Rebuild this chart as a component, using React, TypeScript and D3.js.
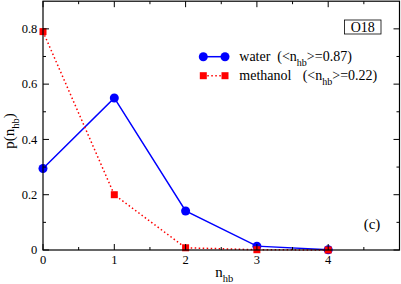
import * as d3 from 'd3';

const nhb = [0, 1, 2, 3, 4];
const water = [0.295, 0.55, 0.141, 0.014, 0.001];
const methanol = [0.79, 0.2, 0.008, 0.001, 0.0];
const xMajor = [0, 1, 2, 3, 4, 5];
const xLabels = ['0', '1', '2', '3', '4', ''];
const xMinor = [0.5, 1.5, 2.5, 3.5, 4.5];
const yMajor = [0, 0.2, 0.4, 0.6, 0.8];
const yLabels = ['0', '0.2', '0.4', '0.6', '0.8'];
const yMinor = [0.1, 0.3, 0.5, 0.7];

const BLUE = '#0000ff';
const RED = '#ff0000';

const left = 43, right = 399.5, top = 1.2, bottom = 250;
const x = d3.scaleLinear().domain([0, 5]).range([left, right]);
const y = d3.scaleLinear().domain([0, 0.9]).range([bottom, top]);

type Pt = [number, number];
const pts = (vals: number[]): Pt[] => nhb.map((n, i) => [n, vals[i]]);
const line = d3.line<Pt>().x(d => x(d[0])).y(d => y(d[1]));

const legend = [
  { name: 'water', mean: '0.87', color: BLUE, dash: undefined, shape: 'circle', cy: 56.7, px: 277.3 },
  { name: 'methanol', mean: '0.22', color: RED, dash: '1.5,2.5', shape: 'square', cy: 75.7, px: 302.7 },
];

const f = (size: number) => ({ fontFamily: 'Liberation Serif', fontSize: size });

export default function App() {
  return (
    <svg
      width={401}
      height={284}
      style={{ position: 'absolute', left: 0, top: 0, background: '#fff' }}
    >
      {/* water */}
      <path d={line(pts(water)) ?? ''} fill="none" stroke={BLUE} strokeWidth={1.5} />
      {pts(water).map((d, i) => (
        <circle key={'w' + i} cx={x(d[0])} cy={y(d[1])} r={4.5} fill={BLUE} />
      ))}

      {/* methanol */}
      <path d={line(pts(methanol)) ?? ''} fill="none" stroke={RED} strokeWidth={1.5} strokeDasharray="1.5,2.5" />
      {pts(methanol).map((d, i) => (
        <rect key={'m' + i} x={x(d[0]) - 3.5} y={y(d[1]) - 3.5} width={7} height={7} fill={RED} />
      ))}

      {/* ticks, inward on all four sides */}
      <g stroke="#000" strokeWidth={1}>
        {xMajor.map(v => (
          <g key={'xM' + v}>
            <line x1={x(v)} x2={x(v)} y1={bottom} y2={bottom - 6} />
            <line x1={x(v)} x2={x(v)} y1={top} y2={top + 6} />
          </g>
        ))}
        {xMinor.map(v => (
          <g key={'xm' + v}>
            <line x1={x(v)} x2={x(v)} y1={bottom} y2={bottom - 3} />
            <line x1={x(v)} x2={x(v)} y1={top} y2={top + 3} />
          </g>
        ))}
        {yMajor.map(v => (
          <g key={'yM' + v}>
            <line x1={left} x2={left + 6} y1={y(v)} y2={y(v)} />
            <line x1={right} x2={right - 6} y1={y(v)} y2={y(v)} />
          </g>
        ))}
        {yMinor.map(v => (
          <g key={'ym' + v}>
            <line x1={left} x2={left + 3} y1={y(v)} y2={y(v)} />
            <line x1={right} x2={right - 3} y1={y(v)} y2={y(v)} />
          </g>
        ))}
      </g>
      <rect x={left} y={top} width={right - left} height={bottom - top} fill="none" stroke="#000" strokeWidth={1.2} />

      {/* tick labels */}
      {xMajor.map((v, i) => (
        <text key={'xl' + v} x={x(v)} y={264} textAnchor="middle" style={f(12.5)}>{xLabels[i]}</text>
      ))}
      {yMajor.map((v, i) => (
        <text key={'yl' + v} x={left - 5.7} y={y(v) + 4.2} textAnchor="end" style={f(12.5)}>{yLabels[i]}</text>
      ))}

      {/* axis titles */}
      <text x={(left + right) / 2 + 3} y={277} textAnchor="middle" style={f(15)}>
        <tspan>n</tspan>
        <tspan dy={4.5} style={f(10.5)}>hb</tspan>
      </text>
      <text transform="translate(14,131) rotate(-90)" textAnchor="middle" style={f(15)}>
        <tspan>p(n</tspan>
        <tspan dy={4.5} style={f(10.5)}>hb</tspan>
        <tspan dy={-4.5}>)</tspan>
      </text>

      {/* O18 box */}
      <rect x={344.5} y={20} width={36.5} height={14} fill="#fff" stroke="#000" strokeWidth={0.8} />
      <text x={362.7} y={31.5} textAnchor="middle" style={f(14)}>O18</text>

      <text x={372} y={229} textAnchor="middle" style={f(15)}>(c)</text>

      {/* legend */}
      {legend.map(l => (
        <g key={l.name}>
          <line x1={203.3} x2={225} y1={l.cy} y2={l.cy} stroke={l.color} strokeWidth={1.5} strokeDasharray={l.dash} />
          {[203.3, 225].map(cx =>
            l.shape === 'circle'
              ? <circle key={cx} cx={cx} cy={l.cy} r={4.5} fill={l.color} />
              : <rect key={cx} x={cx - 3.5} y={l.cy - 3.5} width={7} height={7} fill={l.color} />
          )}
          <text x={239.3} y={l.cy + 4.3} style={f(14)}>{l.name}</text>
          <text x={l.px} y={l.cy + 4.3} style={f(14)}>
            <tspan>{'(<n'}</tspan>
            <tspan dy={4.5} style={f(10)}>hb</tspan>
            <tspan dy={-4.5}>{`>=${l.mean})`}</tspan>
          </text>
        </g>
      ))}
    </svg>
  );
}
